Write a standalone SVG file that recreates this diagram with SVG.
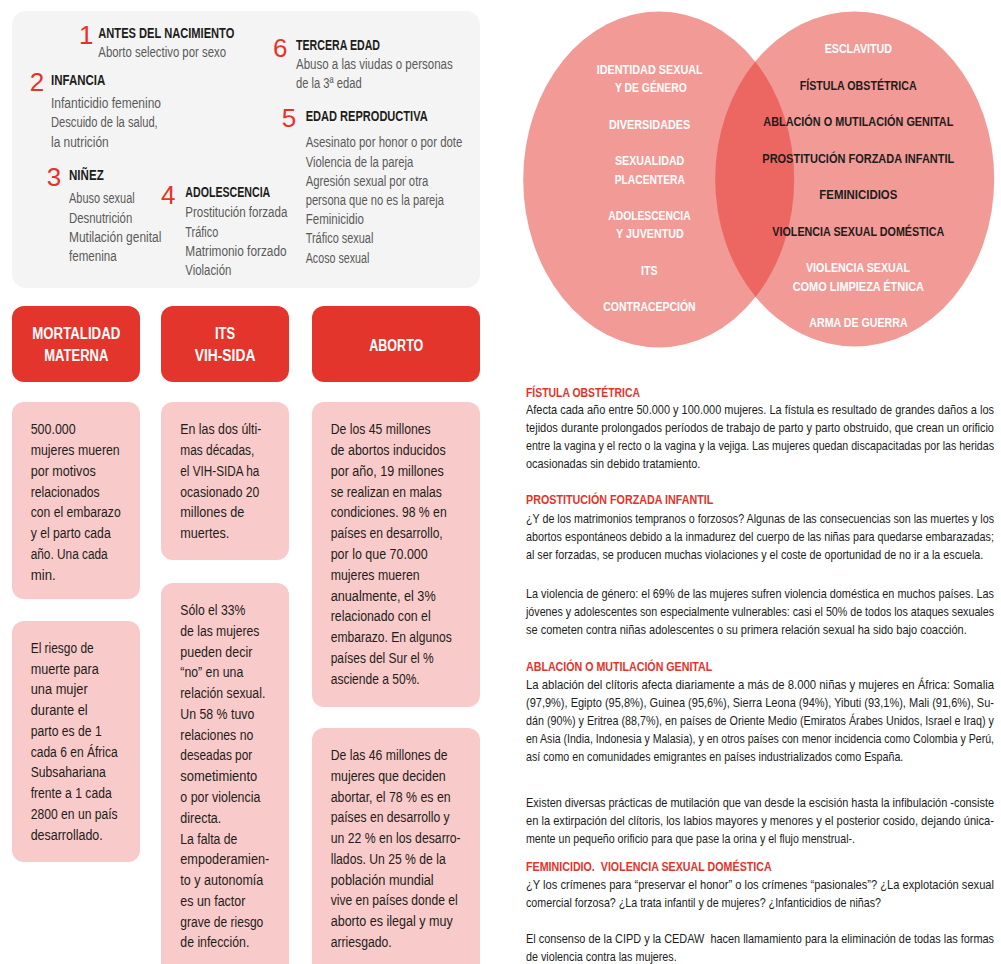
<svg xmlns="http://www.w3.org/2000/svg" width="1001" height="964" viewBox="0 0 1001 964">
<style>
text{font-family:"Liberation Sans",Arial,sans-serif}
.num{font-size:26px;fill:#e5332a}
.gh{font-size:14.5px;font-weight:bold;fill:#1d1d1b}
.gb{font-size:14px;fill:#5a5a59}
.hd{font-size:16px;font-weight:bold;fill:#ffffff}
.pb{font-size:15.5px;fill:#1d1d1b}
.vw{font-size:13.5px;font-weight:bold;fill:#ffffff}
.vk{font-size:13.5px;font-weight:bold;fill:#1d1d1b}
.rh{font-size:12.5px;font-weight:bold;fill:#e5332a}
.rb{font-size:12.5px;fill:#1d1d1b}
.pre{white-space:pre}
.red{fill:#e4352c}
.pink{fill:#f8cac9}
</style>
<defs>
<clipPath id="clipL"><ellipse cx="658.7" cy="179.5" rx="135.5" ry="168"/></clipPath>
</defs>
<rect width="1001" height="964" fill="#ffffff"/>

<g id="life-stages">
<rect x="12" y="11" width="468" height="277" rx="14" fill="#f4f4f4"/>
<g id="stage1">
<text class="num" x="79" y="44.3">1</text>
<text class="gh" x="98.3" y="38.3" textLength="136" lengthAdjust="spacingAndGlyphs">ANTES DEL NACIMIENTO</text>
<text class="gb" x="98.3" y="56.7" textLength="127.7" lengthAdjust="spacingAndGlyphs">Aborto selectivo por sexo</text>
</g>
<g id="stage2">
<text class="num" x="29.7" y="90.7">2</text>
<text class="gh" x="51" y="85.3" textLength="54.3" lengthAdjust="spacingAndGlyphs">INFANCIA</text>
<text class="gb" x="51" y="108.3" textLength="110" lengthAdjust="spacingAndGlyphs">Infanticidio femenino</text>
<text class="gb" x="51" y="127.3" textLength="106.7" lengthAdjust="spacingAndGlyphs">Descuido de la salud,</text>
<text class="gb" x="51" y="146.7" textLength="57.7" lengthAdjust="spacingAndGlyphs">la nutrición</text>
</g>
<g id="stage3">
<text class="num" x="46.7" y="185.7">3</text>
<text class="gh" x="69" y="180" textLength="34.7" lengthAdjust="spacingAndGlyphs">NIÑEZ</text>
<text class="gb" x="69" y="203.3" textLength="65.7" lengthAdjust="spacingAndGlyphs">Abuso sexual</text>
<text class="gb" x="69" y="223" textLength="63.3" lengthAdjust="spacingAndGlyphs">Desnutrición</text>
<text class="gb" x="69" y="242.3" textLength="92.3" lengthAdjust="spacingAndGlyphs">Mutilación genital</text>
<text class="gb" x="69" y="261" textLength="47.7" lengthAdjust="spacingAndGlyphs">femenina</text>
</g>
<g id="stage4">
<text class="num" x="161" y="204">4</text>
<text class="gh" x="185.3" y="197.3" textLength="85" lengthAdjust="spacingAndGlyphs">ADOLESCENCIA</text>
<text class="gb" x="185.3" y="217" textLength="102" lengthAdjust="spacingAndGlyphs">Prostitución forzada</text>
<text class="gb" x="185.3" y="236.7" textLength="33" lengthAdjust="spacingAndGlyphs">Tráfico</text>
<text class="gb" x="185.3" y="256" textLength="101.3" lengthAdjust="spacingAndGlyphs">Matrimonio forzado</text>
<text class="gb" x="185.3" y="275" textLength="46" lengthAdjust="spacingAndGlyphs">Violación</text>
</g>
<g id="stage6">
<text class="num" x="273" y="57.3">6</text>
<text class="gh" x="296" y="50" textLength="84" lengthAdjust="spacingAndGlyphs">TERCERA EDAD</text>
<text class="gb" x="296" y="69" textLength="156.7" lengthAdjust="spacingAndGlyphs">Abuso a las viudas o personas</text>
<text class="gb" x="296" y="88" textLength="65.7" lengthAdjust="spacingAndGlyphs">de la 3ª edad</text>
</g>
<g id="stage5">
<text class="num" x="281.7" y="127.3">5</text>
<text class="gh" x="305.7" y="121" textLength="122" lengthAdjust="spacingAndGlyphs">EDAD REPRODUCTIVA</text>
<text class="gb" x="305.7" y="147.3" textLength="156.7" lengthAdjust="spacingAndGlyphs">Asesinato por honor o por dote</text>
<text class="gb" x="305.7" y="166.7" textLength="107.7" lengthAdjust="spacingAndGlyphs">Violencia de la pareja</text>
<text class="gb" x="305.7" y="186" textLength="122.7" lengthAdjust="spacingAndGlyphs">Agresión sexual por otra</text>
<text class="gb" x="305.7" y="205" textLength="138.3" lengthAdjust="spacingAndGlyphs">persona que no es la pareja</text>
<text class="gb" x="305.7" y="224" textLength="58.3" lengthAdjust="spacingAndGlyphs">Feminicidio</text>
<text class="gb" x="305.7" y="243.3" textLength="67.7" lengthAdjust="spacingAndGlyphs">Tráfico sexual</text>
<text class="gb" x="305.7" y="262.7" textLength="63.7" lengthAdjust="spacingAndGlyphs">Acoso sexual</text>
</g>
</g>

<g id="header-mortalidad">
<rect class="red" x="12" y="306" width="128" height="76" rx="12"/>
<text class="hd" x="32.3" y="339.3" textLength="88" lengthAdjust="spacingAndGlyphs">MORTALIDAD</text>
<text class="hd" x="44.3" y="361" textLength="64" lengthAdjust="spacingAndGlyphs">MATERNA</text>
</g>
<g id="header-its">
<rect class="red" x="161" y="306" width="128" height="76" rx="12"/>
<text class="hd" x="215" y="339.3" textLength="20" lengthAdjust="spacingAndGlyphs">ITS</text>
<text class="hd" x="194.7" y="361" textLength="60.7" lengthAdjust="spacingAndGlyphs">VIH-SIDA</text>
</g>
<g id="header-aborto">
<rect class="red" x="312" y="306" width="168" height="76" rx="12"/>
<text class="hd" x="369.3" y="350.7" textLength="54" lengthAdjust="spacingAndGlyphs">ABORTO</text>
</g>

<g id="card-mortalidad-1">
<rect class="pink" x="12" y="402" width="128" height="197" rx="12"/>
<text class="pb" x="30.7" y="434.3" textLength="45" lengthAdjust="spacingAndGlyphs">500.000</text>
<text class="pb" x="30.7" y="455.1" textLength="89" lengthAdjust="spacingAndGlyphs">mujeres mueren</text>
<text class="pb" x="30.7" y="475.8" textLength="65" lengthAdjust="spacingAndGlyphs">por motivos</text>
<text class="pb" x="30.7" y="496.6" textLength="69" lengthAdjust="spacingAndGlyphs">relacionados</text>
<text class="pb" x="30.7" y="517.4" textLength="90" lengthAdjust="spacingAndGlyphs">con el embarazo</text>
<text class="pb" x="30.7" y="538.2" textLength="80" lengthAdjust="spacingAndGlyphs">y el parto cada</text>
<text class="pb" x="30.7" y="558.9" textLength="77" lengthAdjust="spacingAndGlyphs">año. Una cada</text>
<text class="pb" x="30.7" y="579.7" textLength="25" lengthAdjust="spacingAndGlyphs">min.</text>
</g>
<g id="card-mortalidad-2">
<rect class="pink" x="12" y="621" width="128" height="241" rx="12"/>
<text class="pb" x="30.7" y="652.7" textLength="63" lengthAdjust="spacingAndGlyphs">El riesgo de</text>
<text class="pb" x="30.7" y="673.5" textLength="68" lengthAdjust="spacingAndGlyphs">muerte para</text>
<text class="pb" x="30.7" y="694.2" textLength="57" lengthAdjust="spacingAndGlyphs">una mujer</text>
<text class="pb" x="30.7" y="715" textLength="57" lengthAdjust="spacingAndGlyphs">durante el</text>
<text class="pb" x="30.7" y="735.8" textLength="71" lengthAdjust="spacingAndGlyphs">parto es de 1</text>
<text class="pb" x="30.7" y="756.6" textLength="87" lengthAdjust="spacingAndGlyphs">cada 6 en África</text>
<text class="pb" x="30.7" y="777.3" textLength="75" lengthAdjust="spacingAndGlyphs">Subsahariana</text>
<text class="pb" x="30.7" y="798.1" textLength="81" lengthAdjust="spacingAndGlyphs">frente a 1 cada</text>
<text class="pb" x="30.7" y="818.9" textLength="87" lengthAdjust="spacingAndGlyphs">2800 en un país</text>
<text class="pb" x="30.7" y="839.6" textLength="72" lengthAdjust="spacingAndGlyphs">desarrollado.</text>
</g>
<g id="card-its-1">
<rect class="pink" x="161" y="402" width="128" height="158" rx="12"/>
<text class="pb" x="180.3" y="434.3" textLength="81" lengthAdjust="spacingAndGlyphs">En las dos últi-</text>
<text class="pb" x="180.3" y="455.1" textLength="74" lengthAdjust="spacingAndGlyphs">mas décadas,</text>
<text class="pb" x="180.3" y="475.8" textLength="79" lengthAdjust="spacingAndGlyphs">el VIH-SIDA ha</text>
<text class="pb" x="180.3" y="496.6" textLength="79" lengthAdjust="spacingAndGlyphs">ocasionado 20</text>
<text class="pb" x="180.3" y="517.4" textLength="64" lengthAdjust="spacingAndGlyphs">millones de</text>
<text class="pb" x="180.3" y="538.2" textLength="49" lengthAdjust="spacingAndGlyphs">muertes.</text>
</g>
<g id="card-its-2">
<rect class="pink" x="161" y="583" width="128" height="400" rx="12"/>
<text class="pb" x="180.3" y="615" textLength="65" lengthAdjust="spacingAndGlyphs">Sólo el 33%</text>
<text class="pb" x="180.3" y="635.8" textLength="79" lengthAdjust="spacingAndGlyphs">de las mujeres</text>
<text class="pb" x="180.3" y="656.5" textLength="72" lengthAdjust="spacingAndGlyphs">pueden decir</text>
<text class="pb" x="180.3" y="677.3" textLength="63" lengthAdjust="spacingAndGlyphs">“no” en una</text>
<text class="pb" x="180.3" y="698.1" textLength="85" lengthAdjust="spacingAndGlyphs">relación sexual.</text>
<text class="pb" x="180.3" y="718.9" textLength="74" lengthAdjust="spacingAndGlyphs">Un 58 % tuvo</text>
<text class="pb" x="180.3" y="739.6" textLength="73" lengthAdjust="spacingAndGlyphs">relaciones no</text>
<text class="pb" x="180.3" y="760.4" textLength="72" lengthAdjust="spacingAndGlyphs">deseadas por</text>
<text class="pb" x="180.3" y="781.2" textLength="77" lengthAdjust="spacingAndGlyphs">sometimiento</text>
<text class="pb" x="180.3" y="801.9" textLength="80" lengthAdjust="spacingAndGlyphs">o por violencia</text>
<text class="pb" x="180.3" y="822.7" textLength="41" lengthAdjust="spacingAndGlyphs">directa.</text>
<text class="pb" x="180.3" y="843.5" textLength="57" lengthAdjust="spacingAndGlyphs">La falta de</text>
<text class="pb" x="180.3" y="864.2" textLength="89" lengthAdjust="spacingAndGlyphs">empoderamien-</text>
<text class="pb" x="180.3" y="885" textLength="83" lengthAdjust="spacingAndGlyphs">to y autonomía</text>
<text class="pb" x="180.3" y="905.8" textLength="65" lengthAdjust="spacingAndGlyphs">es un factor</text>
<text class="pb" x="180.3" y="926.6" textLength="83" lengthAdjust="spacingAndGlyphs">grave de riesgo</text>
<text class="pb" x="180.3" y="947.3" textLength="69" lengthAdjust="spacingAndGlyphs">de infección.</text>
</g>
<g id="card-aborto-1">
<rect class="pink" x="312" y="402" width="168" height="305" rx="12"/>
<text class="pb" x="330.7" y="434.3" textLength="100" lengthAdjust="spacingAndGlyphs">De los 45 millones</text>
<text class="pb" x="330.7" y="455.1" textLength="115" lengthAdjust="spacingAndGlyphs">de abortos inducidos</text>
<text class="pb" x="330.7" y="475.8" textLength="113" lengthAdjust="spacingAndGlyphs">por año, 19 millones</text>
<text class="pb" x="330.7" y="496.6" textLength="111" lengthAdjust="spacingAndGlyphs">se realizan en malas</text>
<text class="pb" x="330.7" y="517.4" textLength="116" lengthAdjust="spacingAndGlyphs">condiciones. 98 % en</text>
<text class="pb" x="330.7" y="538.2" textLength="112" lengthAdjust="spacingAndGlyphs">países en desarrollo,</text>
<text class="pb" x="330.7" y="558.9" textLength="97" lengthAdjust="spacingAndGlyphs">por lo que 70.000</text>
<text class="pb" x="330.7" y="579.7" textLength="89" lengthAdjust="spacingAndGlyphs">mujeres mueren</text>
<text class="pb" x="330.7" y="600.5" textLength="105" lengthAdjust="spacingAndGlyphs">anualmente, el 3%</text>
<text class="pb" x="330.7" y="621.2" textLength="100" lengthAdjust="spacingAndGlyphs">relacionado con el</text>
<text class="pb" x="330.7" y="642" textLength="121" lengthAdjust="spacingAndGlyphs">embarazo. En algunos</text>
<text class="pb" x="330.7" y="662.8" textLength="103" lengthAdjust="spacingAndGlyphs">países del Sur el %</text>
<text class="pb" x="330.7" y="683.5" textLength="89" lengthAdjust="spacingAndGlyphs">asciende a 50%.</text>
</g>
<g id="card-aborto-2">
<rect class="pink" x="312" y="728" width="168" height="260" rx="12"/>
<text class="pb" x="330.7" y="760" textLength="117" lengthAdjust="spacingAndGlyphs">De las 46 millones de</text>
<text class="pb" x="330.7" y="780.8" textLength="115" lengthAdjust="spacingAndGlyphs">mujeres que deciden</text>
<text class="pb" x="330.7" y="801.5" textLength="120" lengthAdjust="spacingAndGlyphs">abortar, el 78 % es en</text>
<text class="pb" x="330.7" y="822.3" textLength="119" lengthAdjust="spacingAndGlyphs">países en desarrollo y</text>
<text class="pb" x="330.7" y="843.1" textLength="130" lengthAdjust="spacingAndGlyphs">un 22 % en los desarro-</text>
<text class="pb" x="330.7" y="863.9" textLength="115" lengthAdjust="spacingAndGlyphs">llados. Un 25 % de la</text>
<text class="pb" x="330.7" y="884.6" textLength="103" lengthAdjust="spacingAndGlyphs">población mundial</text>
<text class="pb" x="330.7" y="905.4" textLength="127" lengthAdjust="spacingAndGlyphs">vive en países donde el</text>
<text class="pb" x="330.7" y="926.2" textLength="122" lengthAdjust="spacingAndGlyphs">aborto es ilegal y muy</text>
<text class="pb" x="330.7" y="946.9" textLength="61" lengthAdjust="spacingAndGlyphs">arriesgado.</text>
</g>

<g id="venn">
<ellipse cx="658.7" cy="179.5" rx="135.5" ry="168" fill="#f19a96"/>
<ellipse cx="854.7" cy="179" rx="139.5" ry="167.5" fill="#f19a96"/>
<ellipse cx="854.7" cy="179" rx="139.5" ry="167.5" fill="#ec6762" clip-path="url(#clipL)"/>
<g id="venn-left">
<text class="vw" x="596.7" y="74" textLength="106" lengthAdjust="spacingAndGlyphs">IDENTIDAD SEXUAL</text>
<text class="vw" x="615" y="92" textLength="71.7" lengthAdjust="spacingAndGlyphs">Y DE GÉNERO</text>
<text class="vw" x="609" y="129.3" textLength="81.3" lengthAdjust="spacingAndGlyphs">DIVERSIDADES</text>
<text class="vw" x="615" y="165.3" textLength="69.3" lengthAdjust="spacingAndGlyphs">SEXUALIDAD</text>
<text class="vw" x="614.7" y="184" textLength="70.3" lengthAdjust="spacingAndGlyphs">PLACENTERA</text>
<text class="vw" x="608.3" y="220.3" textLength="82.3" lengthAdjust="spacingAndGlyphs">ADOLESCENCIA</text>
<text class="vw" x="616" y="238.3" textLength="67.7" lengthAdjust="spacingAndGlyphs">Y JUVENTUD</text>
<text class="vw" x="641" y="275.3" textLength="16.7" lengthAdjust="spacingAndGlyphs">ITS</text>
<text class="vw" x="603.3" y="311" textLength="92.3" lengthAdjust="spacingAndGlyphs">CONTRACEPCIÓN</text>
</g>
<g id="venn-right">
<text class="vw" x="824.7" y="53.3" textLength="67.3" lengthAdjust="spacingAndGlyphs">ESCLAVITUD</text>
<text class="vk" x="799.7" y="90" textLength="117" lengthAdjust="spacingAndGlyphs">FÍSTULA OBSTÉTRICA</text>
<text class="vk" x="763.3" y="126" textLength="190" lengthAdjust="spacingAndGlyphs">ABLACIÓN O MUTILACIÓN GENITAL</text>
<text class="vk" x="762.3" y="163" textLength="192" lengthAdjust="spacingAndGlyphs">PROSTITUCIÓN FORZADA INFANTIL</text>
<text class="vk" x="819.3" y="199" textLength="78" lengthAdjust="spacingAndGlyphs">FEMINICIDIOS</text>
<text class="vk" x="772.3" y="235.7" textLength="172" lengthAdjust="spacingAndGlyphs">VIOLENCIA SEXUAL DOMÉSTICA</text>
<text class="vw" x="806" y="272.3" textLength="104" lengthAdjust="spacingAndGlyphs">VIOLENCIA SEXUAL</text>
<text class="vw" x="792.7" y="291" textLength="131.3" lengthAdjust="spacingAndGlyphs">COMO LIMPIEZA ÉTNICA</text>
<text class="vw" x="809.3" y="327.3" textLength="98.3" lengthAdjust="spacingAndGlyphs">ARMA DE GUERRA</text>
</g>
</g>

<g id="text-fistula" transform="translate(526,0) scale(0.78,1)">
<text class="rh" x="0" y="396.7" textLength="146.15" lengthAdjust="spacingAndGlyphs">FÍSTULA OBSTÉTRICA</text>
<text class="rb" x="0" y="414" textLength="600" lengthAdjust="spacingAndGlyphs">Afecta cada año entre 50.000 y 100.000 mujeres. La fístula es resultado de grandes daños a los</text>
<text class="rb" x="0" y="432" textLength="600" lengthAdjust="spacingAndGlyphs">tejidos durante prolongados períodos de trabajo de parto y parto obstruido, que crean un orificio</text>
<text class="rb" x="0" y="450" textLength="600" lengthAdjust="spacingAndGlyphs">entre la vagina y el recto o la vagina y la vejiga. Las mujeres quedan discapacitadas por las heridas</text>
<text class="rb" x="0" y="468" textLength="223.46" lengthAdjust="spacingAndGlyphs">ocasionadas sin debido tratamiento.</text>
</g>
<g id="text-prostitucion" transform="translate(526,0) scale(0.78,1)">
<text class="rh" x="0" y="504.3" textLength="240.13" lengthAdjust="spacingAndGlyphs">PROSTITUCIÓN FORZADA INFANTIL</text>
<text class="rb" x="0" y="522.7" textLength="600" lengthAdjust="spacingAndGlyphs">¿Y de los matrimonios tempranos o forzosos? Algunas de las consecuencias son las muertes y los</text>
<text class="rb" x="0" y="540.7" textLength="600" lengthAdjust="spacingAndGlyphs">abortos espontáneos debido a la inmadurez del cuerpo de las niñas para quedarse embarazadas;</text>
<text class="rb" x="0" y="559" textLength="586.28" lengthAdjust="spacingAndGlyphs">al ser forzadas, se producen muchas violaciones y el coste de oportunidad de no ir a la escuela.</text>
<text class="rb" x="0" y="597.7" textLength="600" lengthAdjust="spacingAndGlyphs">La violencia de género: el 69% de las mujeres sufren violencia doméstica en muchos países. Las</text>
<text class="rb" x="0" y="615.7" textLength="600" lengthAdjust="spacingAndGlyphs">jóvenes y adolescentes son especialmente vulnerables: casi el 50% de todos los ataques sexuales</text>
<text class="rb" x="0" y="633.7" textLength="565" lengthAdjust="spacingAndGlyphs">se cometen contra niñas adolescentes o su primera relación sexual ha sido bajo coacción.</text>
</g>
<g id="text-ablacion" transform="translate(526,0) scale(0.78,1)">
<text class="rh" x="0" y="670.7" textLength="238.85" lengthAdjust="spacingAndGlyphs">ABLACIÓN O MUTILACIÓN GENITAL</text>
<text class="rb" x="0" y="689" textLength="600" lengthAdjust="spacingAndGlyphs">La ablación del clítoris afecta diariamente a más de 8.000 niñas y mujeres en África: Somalia</text>
<text class="rb" x="0" y="706.7" textLength="600" lengthAdjust="spacingAndGlyphs">(97,9%), Egipto (95,8%), Guinea (95,6%), Sierra Leona (94%), Yibuti (93,1%), Mali (91,6%), Su-</text>
<text class="rb" x="0" y="724.7" textLength="600" lengthAdjust="spacingAndGlyphs">dán (90%) y Eritrea (88,7%), en países de Oriente Medio (Emiratos Árabes Unidos, Israel e Iraq) y</text>
<text class="rb" x="0" y="742.7" textLength="600" lengthAdjust="spacingAndGlyphs">en Asia (India, Indonesia y Malasia), y en otros países con menor incidencia como Colombia y Perú,</text>
<text class="rb" x="0" y="760.7" textLength="483.72" lengthAdjust="spacingAndGlyphs">así como en comunidades emigrantes en países industrializados como España.</text>
<text class="rb" x="0" y="807.3" textLength="600" lengthAdjust="spacingAndGlyphs">Existen diversas prácticas de mutilación que van desde la escisión hasta la infibulación -consiste</text>
<text class="rb" x="0" y="825.3" textLength="600" lengthAdjust="spacingAndGlyphs">en la extirpación del clítoris, los labios mayores y menores y el posterior cosido, dejando única-</text>
<text class="rb" x="0" y="843.3" textLength="421.79" lengthAdjust="spacingAndGlyphs">mente un pequeño orificio para que pase la orina y el flujo menstrual-.</text>
</g>
<g id="text-feminicidio" transform="translate(526,0) scale(0.78,1)">
<text class="rh pre" x="0" y="871" textLength="315" lengthAdjust="spacingAndGlyphs">FEMINICIDIO.  VIOLENCIA SEXUAL DOMÉSTICA</text>
<text class="rb" x="0" y="888.7" textLength="600" lengthAdjust="spacingAndGlyphs">¿Y los crímenes para “preservar el honor” o los crímenes “pasionales”? ¿La explotación sexual</text>
<text class="rb" x="0" y="906.7" textLength="455.13" lengthAdjust="spacingAndGlyphs">comercial forzosa? ¿La trata infantil y de mujeres? ¿Infanticidios de niñas?</text>
<text class="rb pre" x="0" y="943" textLength="600" lengthAdjust="spacingAndGlyphs">El consenso de la CIPD y la CEDAW  hacen llamamiento para la eliminación de todas las formas</text>
<text class="rb" x="0" y="961" textLength="193.21" lengthAdjust="spacingAndGlyphs">de violencia contra las mujeres.</text>
</g>
<g id="connectors"/>
</svg>
